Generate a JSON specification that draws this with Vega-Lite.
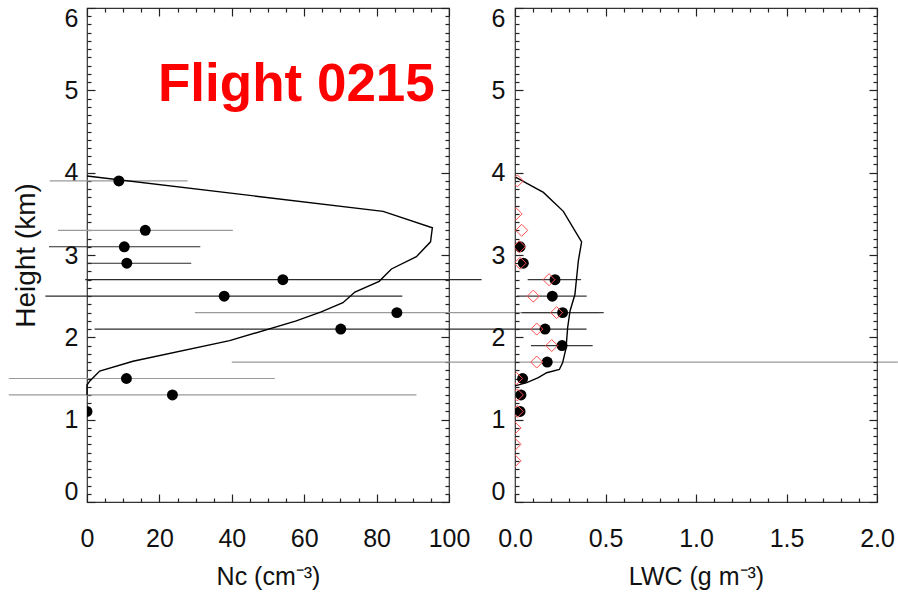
{
  "$schema": "https://vega.github.io/schema/vega-lite/v6.json",
  "bounds": "flush",
  "spacing": 66,
  "padding": {"left": 7, "top": 5, "right": 0, "bottom": 0},
  "background": "white",
  "config": {
    "font": "Liberation Sans",
    "view": {"stroke": "#333333", "strokeWidth": 1.2},
    "axis": {
      "domain": false,
      "grid": false,
      "ticks": true,
      "tickOpacity": 1,
      "labelFont": "Liberation Sans",
      "labelFontSize": 25,
      "labelColor": "#111111",
      "labelFlush": false,
      "titleFont": "Liberation Sans",
      "titleFontSize": 25,
      "titleFontWeight": "normal",
      "titleColor": "#111111",
      "tickColor": "#222222",
      "tickWidth": 1.2,
      "labelOverlap": false
    }
  },
  "datasets": {
    "nc": [
      {"height": 3.9, "nc": 8.8, "nc_lo": -10.3, "nc_hi": 27.8, "run": "1"},
      {"height": 3.3, "nc": 16.1, "nc_lo": -8.0, "nc_hi": 40.3, "run": "1"},
      {"height": 3.1, "nc": 10.3, "nc_lo": -10.5, "nc_hi": 31.3, "run": "2"},
      {"height": 2.9, "nc": 11.0, "nc_lo": 0.2, "nc_hi": 28.8, "run": "2"},
      {"height": 2.7, "nc": 54.1, "nc_lo": -0.5, "nc_hi": 109.0, "run": "2"},
      {"height": 2.5, "nc": 37.9, "nc_lo": -11.5, "nc_hi": 87.1, "run": "2"},
      {"height": 2.3, "nc": 85.6, "nc_lo": 29.8, "nc_hi": 141.4, "run": "1"},
      {"height": 2.1, "nc": 70.1, "nc_lo": 2.1, "nc_hi": 138.0, "run": "2"},
      {"height": 1.7, "nc": null, "nc_lo": 40.0, "nc_hi": 224.0, "run": "1"},
      {"height": 1.5, "nc": 10.9, "nc_lo": -21.6, "nc_hi": 51.9, "run": "1"},
      {"height": 1.3, "nc": 23.6, "nc_lo": -21.6, "nc_hi": 91.0, "run": "1"},
      {"height": 1.1, "nc": 0.0, "nc_lo": null, "nc_hi": null, "run": "1"}
    ],
    "ncProfile": [
      {"height": 3.96, "nc": 0},
      {"height": 3.53, "nc": 81.8},
      {"height": 3.33, "nc": 95.4},
      {"height": 3.16, "nc": 94.9},
      {"height": 2.98, "nc": 91.0},
      {"height": 2.83, "nc": 84.1},
      {"height": 2.68, "nc": 80.7},
      {"height": 2.55, "nc": 74.0},
      {"height": 2.42, "nc": 70.7},
      {"height": 2.31, "nc": 64.7},
      {"height": 2.2, "nc": 57.8},
      {"height": 1.96, "nc": 39.4},
      {"height": 1.71, "nc": 12.7},
      {"height": 1.59, "nc": 3.5},
      {"height": 1.47, "nc": 0.8},
      {"height": 1.42, "nc": 0},
      {"height": 1.3, "nc": 0}
    ],
    "lwc": [
      {"height": 3.1, "lwc": 0.028, "lo": null, "hi": null},
      {"height": 2.9, "lwc": 0.046, "lo": null, "hi": null},
      {"height": 2.7, "lwc": 0.221, "lo": 0.07, "hi": 0.365},
      {"height": 2.5, "lwc": 0.206, "lo": 0.01, "hi": 0.396},
      {"height": 2.3, "lwc": 0.263, "lo": 0.037, "hi": 0.49},
      {"height": 2.1, "lwc": 0.166, "lo": null, "hi": null},
      {"height": 1.9, "lwc": 0.26, "lo": 0.088, "hi": 0.429},
      {"height": 1.7, "lwc": 0.178, "lo": null, "hi": null},
      {"height": 1.5, "lwc": 0.042, "lo": null, "hi": null},
      {"height": 1.3, "lwc": 0.033, "lo": null, "hi": null},
      {"height": 1.1, "lwc": 0.028, "lo": null, "hi": null}
    ],
    "lwcAlt": [
      {"height": 3.9, "lwc": 0.013},
      {"height": 3.5, "lwc": 0.006},
      {"height": 3.3, "lwc": 0.037},
      {"height": 3.1, "lwc": 0.024},
      {"height": 2.9, "lwc": 0.028},
      {"height": 2.7, "lwc": 0.188},
      {"height": 2.5, "lwc": 0.101},
      {"height": 2.3, "lwc": 0.23},
      {"height": 2.1, "lwc": 0.12},
      {"height": 1.9, "lwc": 0.203},
      {"height": 1.7, "lwc": 0.12},
      {"height": 1.5, "lwc": 0.009},
      {"height": 1.3, "lwc": 0.013},
      {"height": 1.1, "lwc": 0.013},
      {"height": 0.9, "lwc": 0.0},
      {"height": 0.7, "lwc": 0.0},
      {"height": 0.5, "lwc": 0.0}
    ],
    "lwcProfile": [
      {"height": 3.95, "lwc": 0},
      {"height": 3.76, "lwc": 0.157},
      {"height": 3.53, "lwc": 0.267},
      {"height": 3.16, "lwc": 0.368},
      {"height": 2.93, "lwc": 0.35},
      {"height": 2.52, "lwc": 0.331},
      {"height": 2.32, "lwc": 0.304},
      {"height": 2.12, "lwc": 0.291},
      {"height": 1.87, "lwc": 0.282},
      {"height": 1.69, "lwc": 0.263},
      {"height": 1.61, "lwc": 0.245},
      {"height": 1.57, "lwc": 0.175},
      {"height": 1.51, "lwc": 0.129},
      {"height": 1.45, "lwc": 0.065},
      {"height": 1.41, "lwc": 0}
    ],
    "title": [
      {"nc": 19.6, "height": 4.87, "label": "Flight 0215"}
    ]
  },
  "hconcat": [
    {
      "width": 362,
      "height": 494,
      "resolve": {"axis": {"x": "independent", "y": "independent"}},
      "layer": [
        {
          "data": {"name": "nc"},
          "mark": {"type": "rule", "strokeWidth": 1.2},
          "encoding": {
            "y": {
              "field": "height", "type": "quantitative",
              "scale": {"domain": [0, 6], "nice": false, "zero": false},
              "axis": {
                "orient": "left", "values": [0, 1, 2, 3, 4, 5, 6], "format": "d",
                "offset": -8, "tickSize": 8, "labelPadding": 9, "labelFlush": true, "labelFlushOffset": 2,
                "title": "Height (km)", "titleFontSize": 28, "titlePadding": 24
              }
            },
            "x": {
              "field": "nc_lo", "type": "quantitative",
              "scale": {"domain": [0, 100], "nice": false, "zero": false},
              "axis": {
                "orient": "bottom", "values": [0, 20, 40, 60, 80, 100], "format": "d",
                "offset": -8, "tickSize": 8, "labelPadding": 24,
                "title": "Nc (cm⁻³)", "titlePadding": 13
              }
            },
            "x2": {"field": "nc_hi"},
            "color": {
              "field": "run", "type": "nominal",
              "scale": {"domain": ["1", "2"], "range": ["#9a9a9a", "#2a2a2a"]},
              "legend": null
            }
          }
        },
        {
          "data": {"name": "ncProfile"},
          "mark": {"type": "line", "color": "black", "strokeWidth": 1.4},
          "encoding": {
            "x": {
              "field": "nc", "type": "quantitative",
              "axis": {
                "orient": "bottom", "values": [5, 10, 15, 25, 30, 35, 45, 50, 55, 65, 70, 75, 85, 90, 95],
                "offset": -4, "tickSize": 4, "labels": false, "title": null
              }
            },
            "y": {
              "field": "height", "type": "quantitative",
              "axis": {
                "orient": "left",
                "values": [0.1,0.2,0.3,0.4,0.5,0.6,0.7,0.8,0.9,1.1,1.2,1.3,1.4,1.5,1.6,1.7,1.8,1.9,2.1,2.2,2.3,2.4,2.5,2.6,2.7,2.8,2.9,3.1,3.2,3.3,3.4,3.5,3.6,3.7,3.8,3.9,4.1,4.2,4.3,4.4,4.5,4.6,4.7,4.8,4.9,5.1,5.2,5.3,5.4,5.5,5.6,5.7,5.8,5.9],
                "offset": -4, "tickSize": 4, "labels": false, "title": null
              }
            },
            "order": {"field": "height", "type": "quantitative"}
          }
        },
        {
          "data": {"name": "nc"},
          "mark": {"type": "circle", "color": "black", "size": 120, "opacity": 1, "clip": true},
          "encoding": {
            "x": {
              "field": "nc", "type": "quantitative",
              "axis": {
                "orient": "top", "values": [0, 20, 40, 60, 80, 100],
                "offset": -8, "tickSize": 8, "labels": false, "title": null
              }
            },
            "y": {
              "field": "height", "type": "quantitative",
              "axis": {
                "orient": "right", "values": [0, 1, 2, 3, 4, 5, 6],
                "offset": -8, "tickSize": 8, "labels": false, "title": null
              }
            }
          }
        },
        {
          "data": {"name": "title"},
          "mark": {"type": "text", "align": "left", "baseline": "alphabetic", "font": "Liberation Sans", "fontSize": 53, "fontWeight": "bold", "color": "#ff0000"},
          "encoding": {
            "x": {
              "field": "nc", "type": "quantitative",
              "axis": {
                "orient": "top", "values": [5, 10, 15, 25, 30, 35, 45, 50, 55, 65, 70, 75, 85, 90, 95],
                "offset": -4, "tickSize": 4, "labels": false, "title": null
              }
            },
            "y": {
              "field": "height", "type": "quantitative",
              "axis": {
                "orient": "right",
                "values": [0.1,0.2,0.3,0.4,0.5,0.6,0.7,0.8,0.9,1.1,1.2,1.3,1.4,1.5,1.6,1.7,1.8,1.9,2.1,2.2,2.3,2.4,2.5,2.6,2.7,2.8,2.9,3.1,3.2,3.3,3.4,3.5,3.6,3.7,3.8,3.9,4.1,4.2,4.3,4.4,4.5,4.6,4.7,4.8,4.9,5.1,5.2,5.3,5.4,5.5,5.6,5.7,5.8,5.9],
                "offset": -4, "tickSize": 4, "labels": false, "title": null
              }
            },
            "text": {"field": "label"}
          }
        }
      ]
    },
    {
      "width": 362,
      "height": 494,
      "resolve": {"axis": {"x": "independent", "y": "independent"}},
      "layer": [
        {
          "data": {"name": "lwc"},
          "mark": {"type": "rule", "strokeWidth": 1.2, "color": "#3a3a3a"},
          "encoding": {
            "y": {
              "field": "height", "type": "quantitative",
              "scale": {"domain": [0, 6], "nice": false, "zero": false},
              "axis": {
                "orient": "left", "values": [0, 1, 2, 3, 4, 5, 6], "format": "d",
                "offset": -8, "tickSize": 8, "labelPadding": 10, "labelFlush": true, "labelFlushOffset": 2,
                "title": null
              }
            },
            "x": {
              "field": "lo", "type": "quantitative",
              "scale": {"domain": [0, 2], "nice": false, "zero": false},
              "axis": {
                "orient": "bottom", "values": [0, 0.5, 1, 1.5, 2], "format": ".1f",
                "offset": -8, "tickSize": 8, "labelPadding": 24,
                "title": "LWC (g m⁻³)", "titlePadding": 13
              }
            },
            "x2": {"field": "hi"}
          }
        },
        {
          "data": {"name": "lwcProfile"},
          "mark": {"type": "line", "color": "black", "strokeWidth": 1.4},
          "encoding": {
            "x": {
              "field": "lwc", "type": "quantitative",
              "axis": {
                "orient": "bottom", "values": [0.1,0.2,0.3,0.4,0.6,0.7,0.8,0.9,1.1,1.2,1.3,1.4,1.6,1.7,1.8,1.9],
                "offset": -4, "tickSize": 4, "labels": false, "title": null
              }
            },
            "y": {
              "field": "height", "type": "quantitative",
              "axis": {
                "orient": "left",
                "values": [0.1,0.2,0.3,0.4,0.5,0.6,0.7,0.8,0.9,1.1,1.2,1.3,1.4,1.5,1.6,1.7,1.8,1.9,2.1,2.2,2.3,2.4,2.5,2.6,2.7,2.8,2.9,3.1,3.2,3.3,3.4,3.5,3.6,3.7,3.8,3.9,4.1,4.2,4.3,4.4,4.5,4.6,4.7,4.8,4.9,5.1,5.2,5.3,5.4,5.5,5.6,5.7,5.8,5.9],
                "offset": -4, "tickSize": 4, "labels": false, "title": null
              }
            },
            "order": {"field": "height", "type": "quantitative"}
          }
        },
        {
          "data": {"name": "lwc"},
          "mark": {"type": "circle", "color": "black", "size": 120, "opacity": 1, "clip": true},
          "encoding": {
            "x": {
              "field": "lwc", "type": "quantitative",
              "axis": {
                "orient": "top", "values": [0, 0.5, 1, 1.5, 2],
                "offset": -8, "tickSize": 8, "labels": false, "title": null
              }
            },
            "y": {
              "field": "height", "type": "quantitative",
              "axis": {
                "orient": "right", "values": [0, 1, 2, 3, 4, 5, 6],
                "offset": -8, "tickSize": 8, "labels": false, "title": null
              }
            }
          }
        },
        {
          "data": {"name": "lwcAlt"},
          "mark": {"type": "point", "shape": "diamond", "filled": false, "color": "#ff4d4d", "size": 144, "strokeWidth": 1, "opacity": 1, "clip": true},
          "encoding": {
            "x": {
              "field": "lwc", "type": "quantitative",
              "axis": {
                "orient": "top", "values": [0.1,0.2,0.3,0.4,0.6,0.7,0.8,0.9,1.1,1.2,1.3,1.4,1.6,1.7,1.8,1.9],
                "offset": -4, "tickSize": 4, "labels": false, "title": null
              }
            },
            "y": {
              "field": "height", "type": "quantitative",
              "axis": {
                "orient": "right",
                "values": [0.1,0.2,0.3,0.4,0.5,0.6,0.7,0.8,0.9,1.1,1.2,1.3,1.4,1.5,1.6,1.7,1.8,1.9,2.1,2.2,2.3,2.4,2.5,2.6,2.7,2.8,2.9,3.1,3.2,3.3,3.4,3.5,3.6,3.7,3.8,3.9,4.1,4.2,4.3,4.4,4.5,4.6,4.7,4.8,4.9,5.1,5.2,5.3,5.4,5.5,5.6,5.7,5.8,5.9],
                "offset": -4, "tickSize": 4, "labels": false, "title": null
              }
            }
          }
        }
      ]
    }
  ]
}
